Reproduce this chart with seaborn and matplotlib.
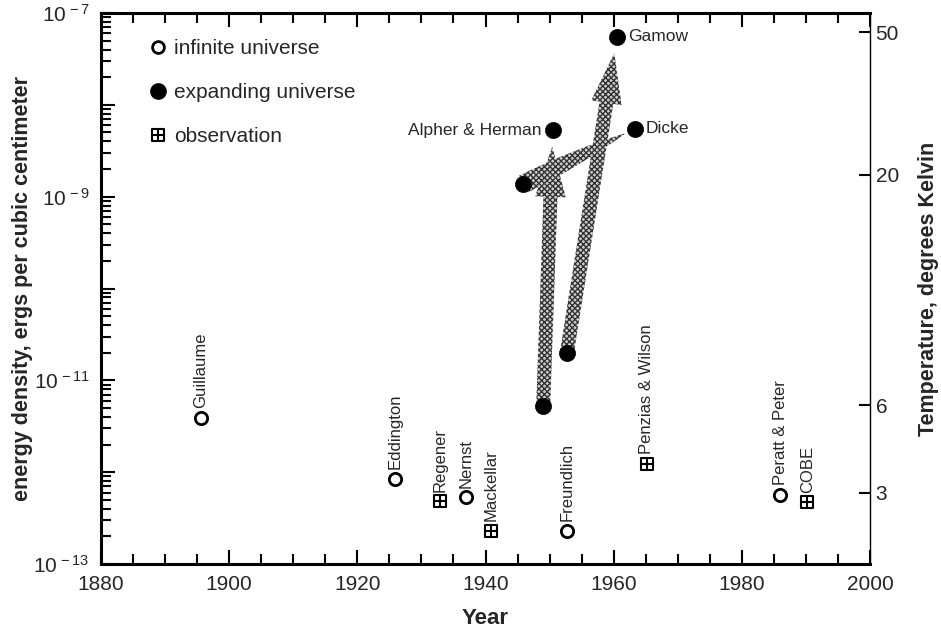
import numpy as np
import pandas as pd
import matplotlib
matplotlib.use("Agg")
import matplotlib.pyplot as plt
from matplotlib.path import Path
from matplotlib.lines import Line2D
from matplotlib.ticker import NullFormatter, FixedLocator, FixedFormatter, NullLocator
import seaborn as sns

# ---------------- data ----------------
infinite_names = ["Guillaume", "Eddington", "Nernst", "Freundlich", "Peratt & Peter"]
infinite_years = [1895.6, 1925.9, 1937.0, 1952.7, 1986.0]
infinite_density = [3.9e-12, 8.5e-13, 5.3e-13, 2.3e-13, 5.7e-13]

obs_names = ["Regener", "Mackellar", "Penzias & Wilson", "COBE"]
obs_years = [1932.9, 1940.9, 1965.2, 1990.2]
obs_density = [4.8e-13, 2.3e-13, 1.23e-12, 4.7e-13]

exp_names = ["Gamow", "Alpher & Herman", "Dicke", "", "", ""]
exp_years = [1960.5, 1950.5, 1963.3, 1945.9, 1949.0, 1952.7]
exp_density = [5.5e-8, 5.3e-9, 5.5e-9, 1.37e-9, 5.2e-12, 2.0e-11]

# arrows between expanding-universe points (from index -> to index)
arrow_links = [(4, 1), (5, 0)]
wedge_links = [(3, 2)]

temp_labels = ["50", "20", "6", "3"]
temp_density = [6.17e-8, 1.74e-9, 5.37e-12, 6.0e-13]

x_ticks = [1880, 1900, 1920, 1940, 1960, 1980, 2000]
y_exponents = [-13, -12, -11, -10, -9, -8, -7]
y_labels = [r"$\mathregular{10^{\,-13}}$", "", r"$\mathregular{10^{\,-11}}$", "",
            r"$\mathregular{10^{\,-9}}$", "", r"$\mathregular{10^{\,-7}}$"]

# ---------------- style ----------------
sns.set_style("ticks")
plt.rcParams["font.family"] = ["Liberation Sans", "DejaVu Sans"]
plt.rcParams["mathtext.fontset"] = "custom"
plt.rcParams["mathtext.rm"] = "Liberation Sans"
plt.rcParams["mathtext.it"] = "Liberation Sans"
plt.rcParams["hatch.linewidth"] = 1.0

fig = plt.figure(figsize=(9.41, 6.29), dpi=100)
ax = fig.add_axes([101 / 941, 65 / 629, 769 / 941, 551 / 629])

df_inf = pd.DataFrame({"year": infinite_years, "density": infinite_density, "name": infinite_names})
df_obs = pd.DataFrame({"year": obs_years, "density": obs_density, "name": obs_names})
df_exp = pd.DataFrame({"year": exp_years, "density": exp_density, "name": exp_names})

ax.set_yscale("log")
ax.set_xlim(1880, 2000)
ax.set_ylim(1e-13, 1e-7)

# observation marker: square with a cross
obs_marker = Path(
    [(-1, -1), (1, -1), (1, 1), (-1, 1), (-1, -1), (-1, 0), (1, 0), (0, -1), (0, 1)],
    [Path.MOVETO, Path.LINETO, Path.LINETO, Path.LINETO, Path.CLOSEPOLY,
     Path.MOVETO, Path.LINETO, Path.MOVETO, Path.LINETO],
)

sns.scatterplot(data=df_inf, x="year", y="density", ax=ax, marker="o", s=78,
                facecolor="white", edgecolor="black", linewidth=2.0, zorder=4, legend=False)
sns.scatterplot(data=df_exp, x="year", y="density", ax=ax, marker="o", s=135,
                color="black", edgecolor="black", linewidth=0.5, zorder=4, legend=False)
sns.scatterplot(data=df_obs, x="year", y="density", ax=ax, marker=obs_marker, s=85,
                facecolor="white", edgecolor="black", linewidth=1.5, zorder=4, legend=False)

# arrows
arrow_kw = dict(facecolor="#cfcfcf", edgecolor="#333333", hatch="xxxxxx", linewidth=0)
for a, b in arrow_links:
    ax.annotate("", xy=(exp_years[b], exp_density[b]), xytext=(exp_years[a], exp_density[a]),
                arrowprops=dict(arrowstyle="simple,head_length=3.6,head_width=2.2,tail_width=1.0",
                                mutation_scale=10, shrinkA=0, shrinkB=12, **arrow_kw),
                zorder=2)
for a, b in wedge_links:
    ax.annotate("", xy=(exp_years[b], exp_density[b]), xytext=(exp_years[a], exp_density[a]),
                arrowprops=dict(arrowstyle="wedge,tail_width=1.35,shrink_factor=0.75",
                                mutation_scale=10, shrinkA=0, shrinkB=7, **arrow_kw),
                zorder=2)

# point labels
for df in (df_inf, df_obs):
    for _, r in df.iterrows():
        ax.annotate(r["name"], (r["year"], r["density"]), xytext=(0, 7),
                    textcoords="offset points", rotation=90, ha="center", va="bottom",
                    fontsize=12)
for i, r in df_exp.iterrows():
    if not r["name"]:
        continue
    if r["name"] == "Alpher & Herman":
        ax.annotate(r["name"], (r["year"], r["density"]), xytext=(-8, 0),
                    textcoords="offset points", ha="right", va="center", fontsize=12.5)
    else:
        ax.annotate(r["name"], (r["year"], r["density"]), xytext=(8, 0),
                    textcoords="offset points", ha="left", va="center", fontsize=12.5)

# axes ticks
decades = [10.0 ** e for e in y_exponents]
minor_y = [m * d for d in decades[:-1] for m in range(2, 10)]
minor_x = [float(v) for v in np.arange(1880, 2001, 5) if v not in x_ticks]

ax.xaxis.set_major_locator(FixedLocator(x_ticks))
ax.xaxis.set_minor_locator(FixedLocator(minor_x))
ax.xaxis.set_minor_formatter(NullFormatter())
ax.yaxis.set_major_locator(FixedLocator(decades))
ax.yaxis.set_major_formatter(FixedFormatter(y_labels))
ax.yaxis.set_minor_locator(FixedLocator(minor_y))
ax.yaxis.set_minor_formatter(NullFormatter())
ax.tick_params(axis="both", which="major", direction="in", length=10, width=1.5,
               labelsize=15, top=True, right=False, left=True, bottom=True, color="black")
ax.tick_params(axis="both", which="minor", direction="in", length=7, width=1.5,
               top=True, right=False, left=True, bottom=True, color="black")
ax.tick_params(axis="y", which="major", pad=8)
ax.tick_params(axis="x", which="major", pad=8)
for s in ("left", "bottom", "top"):
    ax.spines[s].set_linewidth(2.2)
    ax.spines[s].set_color("black")
ax.spines["right"].set_linewidth(1.0)
ax.spines["right"].set_color("black")

ax.set_xlabel("Year", fontsize=16, fontweight="bold", labelpad=10)
ax.set_ylabel("energy density, ergs per cubic centimeter", fontsize=15.5, fontweight="bold")
ax.yaxis.set_label_coords(-0.088, 0.5)

# right axis: temperature
ax2 = ax.twinx()
ax2.set_yscale("log")
ax2.set_ylim(ax.get_ylim())
ax2.yaxis.set_major_locator(FixedLocator(temp_density))
ax2.yaxis.set_major_formatter(FixedFormatter(temp_labels))
ax2.yaxis.set_minor_locator(NullLocator())
ax2.tick_params(axis="y", which="major", direction="in", length=8, width=1.5, labelsize=15,
                pad=4, color="black")
for s in ax2.spines.values():
    s.set_visible(False)
ax2.set_ylabel("Temperature, degrees Kelvin", fontsize=15.5, fontweight="bold", labelpad=14)

# legend
handles = [
    Line2D([], [], ls="none", marker="o", ms=8.5, mfc="white", mec="black", mew=2.0),
    Line2D([], [], ls="none", marker="o", ms=11, mfc="black", mec="black"),
    Line2D([], [], ls="none", marker=obs_marker, ms=8.5, mfc="white", mec="black", mew=1.5),
]
ax.legend(handles, ["infinite universe", "expanding universe", "observation"],
          loc="upper left", bbox_to_anchor=(0.052, 0.968), frameon=False, fontsize=15,
          handlelength=0.8, handletextpad=0.4, labelspacing=1.2, borderaxespad=0)

fig.savefig("out.png", dpi=100)
